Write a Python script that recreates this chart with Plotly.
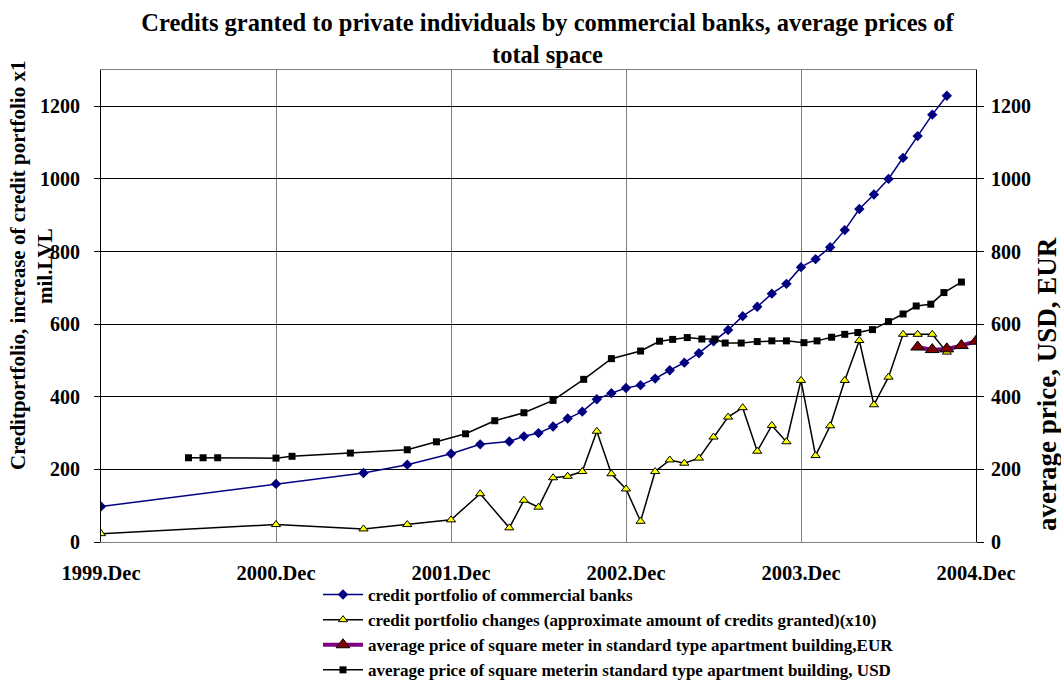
import plotly.graph_objects as go

# months since 1999.Dec
credit_months = [0, 12, 18, 21, 24, 26, 28, 29, 30, 31, 32, 33, 34, 35, 36, 37, 38, 39, 40, 41, 42,
                 43, 44, 45, 46, 47, 48, 49, 50, 51, 52, 53, 54, 55, 56, 57, 58]
credit_portfolio = [98, 160, 190, 213, 243, 269, 277, 291, 300, 318, 340, 359, 393, 410, 424, 432, 450,
                    473, 494, 520, 553, 584, 622, 648, 684, 711, 757, 779, 812, 859, 917, 957, 1000,
                    1058, 1118, 1177, 1229]
credit_changes = [23, 48, 36, 48, 61, 133, 39, 115, 96, 177, 181, 194, 305, 188, 146, 57, 194,
                  226, 217, 231, 289, 344, 370, 250, 321, 276, 445, 238, 320, 445, 555, 378, 454,
                  572, 572, 572, 523]

usd_months = [6, 7, 8, 12, 13.1, 17.1, 21, 23, 25, 27, 29, 31, 33.1, 35, 37, 38.3, 39.2, 40.2, 41.2,
              42.1, 42.8, 43.9, 45, 46, 47, 48.2, 49.1, 50.1, 51, 51.9, 52.9, 54, 55, 55.9, 56.9,
              57.8, 59]
usd_price = [232, 232, 232, 231, 236, 245, 254, 276, 298, 334, 356, 390, 448, 505, 526, 553, 558,
             563, 559, 559, 548, 548, 552, 554, 554, 549, 554, 564, 572, 577, 585, 607, 628, 650,
             655, 687, 716]

eur_months = [56, 57, 58, 59, 60]
eur_price = [537, 530, 532, 541, 553]

tick_months = [0, 12, 24, 36, 48, 60]
tick_labels = ["1999.Dec", "2000.Dec", "2001.Dec", "2002.Dec", "2003.Dec", "2004.Dec"]
y_ticks = [0, 200, 400, 600, 800, 1000, 1200]

FONT = "Liberation Serif, Times New Roman, serif"

fig = go.Figure()
fig.add_trace(go.Scatter(
    x=credit_months, y=credit_portfolio, mode="lines+markers",
    name="<b>credit portfolio of commercial banks</b>",
    line=dict(color="#000080", width=1.5),
    marker=dict(symbol="diamond", size=8, color="#000080"),
    legendgroup="a", legendrank=1))
fig.add_trace(go.Scatter(
    x=credit_months, y=credit_changes, mode="lines+markers",
    name="<b>credit portfolio changes (approximate amount of credits granted)(x10)</b>",
    line=dict(color="black", width=1.5),
    marker=dict(symbol="triangle-up", size=8, color="#FFFF00", line=dict(color="black", width=1)),
    legendgroup="b", legendrank=2))
fig.add_trace(go.Scatter(
    x=usd_months, y=usd_price, mode="lines+markers", yaxis="y2",
    name="<b>average price of square meterin standard type apartment building, USD</b>",
    line=dict(color="black", width=1.5),
    marker=dict(symbol="square", size=7, color="black"),
    legendgroup="d", legendrank=4))
fig.add_trace(go.Scatter(
    x=eur_months, y=eur_price, mode="lines+markers", yaxis="y2",
    name="<b>average price of square meter in standard type apartment building,EUR</b>",
    line=dict(color="#800080", width=4, shape="spline"),
    marker=dict(symbol="triangle-up", size=12, color="#800000", line=dict(color="black", width=1)),
    legendgroup="c", legendrank=3))

fig.update_layout(
    width=1061, height=681,
    margin=dict(l=101, r=85, t=70, b=139, autoexpand=False),
    paper_bgcolor="white", plot_bgcolor="white",
    font=dict(family=FONT, color="black", size=17),
    title=dict(
        text="<b>Credits granted to private individuals by commercial banks, average prices of<br>total space</b>",
        font=dict(family=FONT, size=24.5, color="black"),
        x=0.516, xanchor="center", xref="container",
        y=1 - 31 / 681, yanchor="middle", yref="container"),
    xaxis=dict(
        range=[0, 60], tickvals=tick_months, ticktext=["<b>%s</b>" % t for t in tick_labels],
        tickfont=dict(family=FONT, size=20.5), tickangle=0,
        showgrid=True, gridcolor="#808080", gridwidth=1,
        showline=True, linecolor="#808080", linewidth=1, mirror=True,
        ticks="", ticklabelstandoff=12, zeroline=False),
    yaxis=dict(
        range=[0, 1300], tickvals=y_ticks, ticktext=["<b>%d</b>" % v for v in y_ticks],
        tickfont=dict(family=FONT, size=20),
        showgrid=True, gridcolor="black", gridwidth=1,
        showline=True, linecolor="black", linewidth=1,
        ticks="outside", ticklen=6, tickcolor="black", ticklabelstandoff=10, zeroline=False),
    yaxis2=dict(
        range=[0, 1300], tickvals=y_ticks, ticktext=["<b>%d</b>" % v for v in y_ticks],
        tickfont=dict(family=FONT, size=20),
        overlaying="y", side="right", showgrid=False,
        showline=True, linecolor="black", linewidth=1,
        ticks="outside", ticklen=7, tickcolor="black", ticklabelstandoff=3, zeroline=False),
    legend=dict(
        xref="container", yref="container",
        x=318 / 1061, y=1 - 577 / 681, xanchor="left", yanchor="top",
        font=dict(family=FONT, size=17), bgcolor="rgba(0,0,0,0)",
        tracegroupgap=0, traceorder="grouped", itemwidth=40),
    showlegend=True,
)

fig.add_annotation(
    text="<b>Creditportfolio, increase of credit portfolio x1</b>",
    xref="paper", yref="paper", x=(18 - 101) / 875, y=(542 - 266) / 472,
    xanchor="center", yanchor="middle", textangle=-90, showarrow=False,
    font=dict(family=FONT, size=21, color="black"))
fig.add_annotation(
    text="<b>mil.LVL</b>",
    xref="paper", yref="paper", x=(45 - 101) / 875, y=(542 - 266) / 472,
    xanchor="center", yanchor="middle", textangle=-90, showarrow=False,
    font=dict(family=FONT, size=21, color="black"))
fig.add_annotation(
    text="<b>average price, USD, EUR</b>",
    xref="paper", yref="paper", x=(1047 - 101) / 875, y=(542 - 384) / 472,
    xanchor="center", yanchor="middle", textangle=-90, showarrow=False,
    font=dict(family=FONT, size=27, color="black"))

fig.write_html("out.html")
